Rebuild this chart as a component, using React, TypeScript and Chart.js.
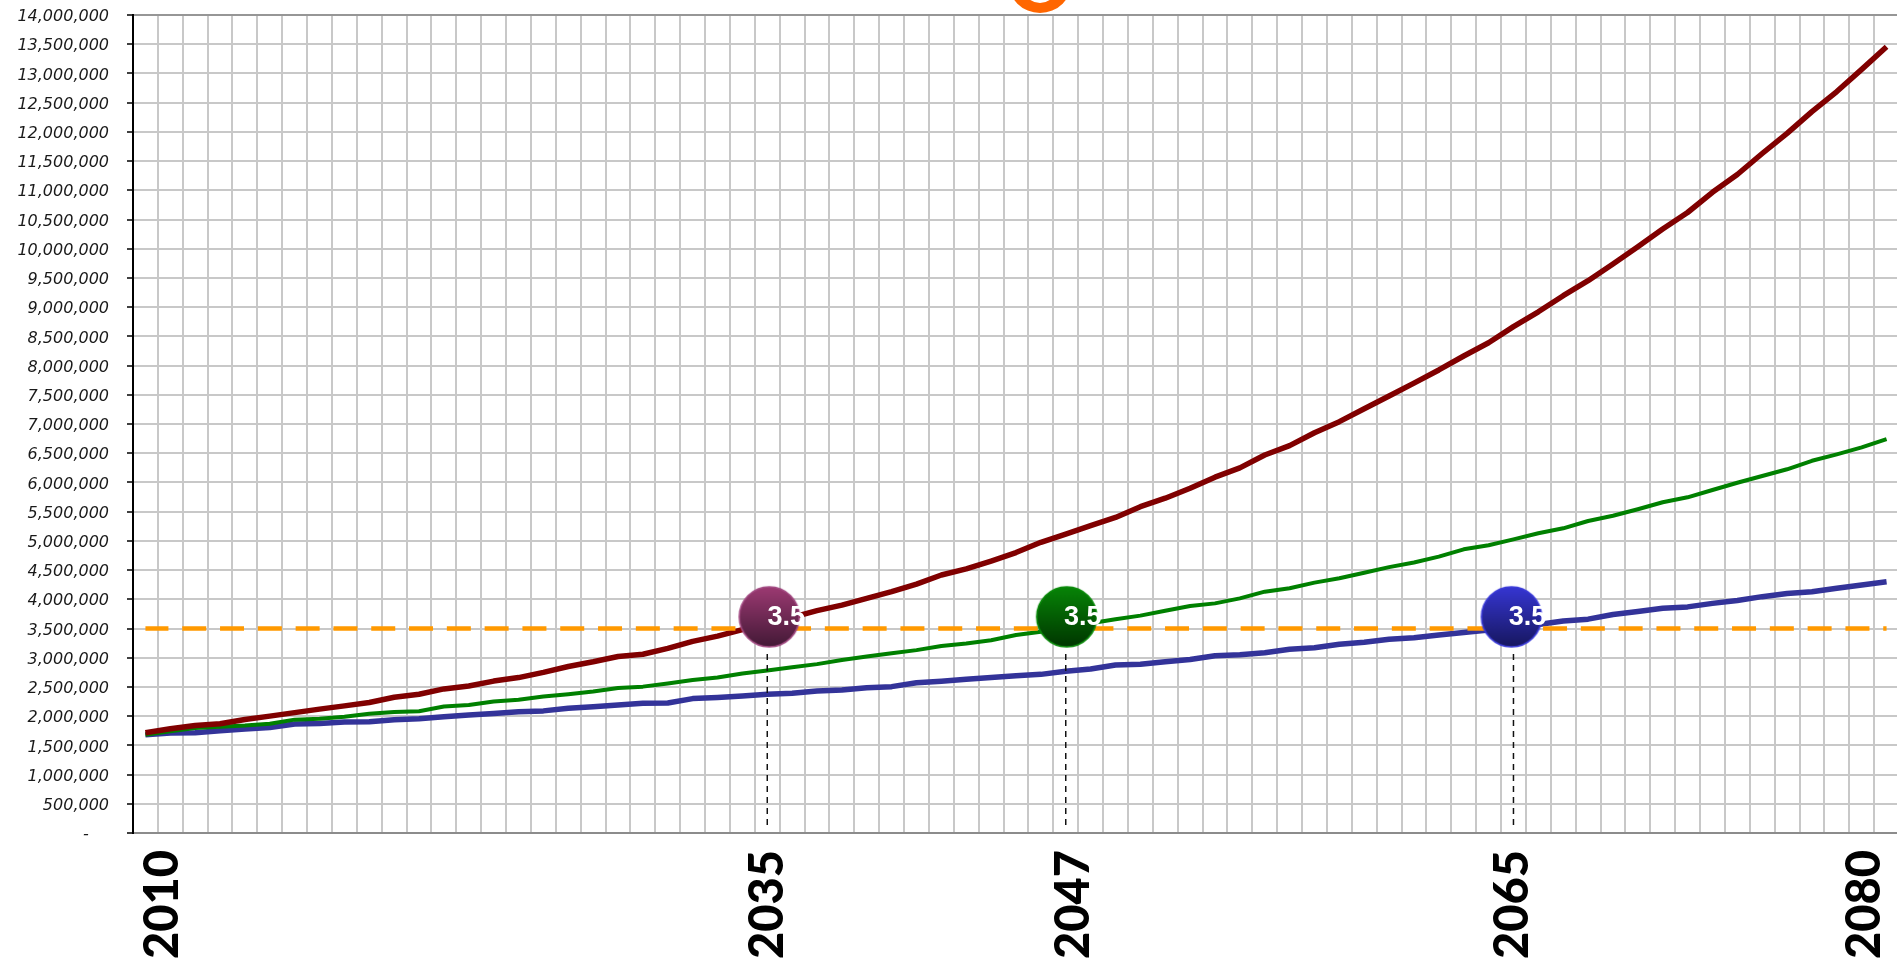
import React, { useEffect, useRef } from "react";
import { Chart, registerables } from "chart.js";

Chart.register(...registerables);

const FIRST_YEAR = 2010;
const years: string[] = Array.from({ length: 71 }, (_, i) => String(FIRST_YEAR + i));
const shownYears = ["2010", "2035", "2047", "2065", "2080"];

const highSeries = [
  1716000, 1784000, 1840000, 1870000, 1943000, 2000000, 2060000, 2120000, 2176000, 2233000,
  2324000, 2375000, 2466000, 2517000, 2600000, 2660000, 2750000, 2850000, 2930000, 3020000,
  3060000, 3160000, 3280000, 3370000, 3480000, 3600000, 3690000, 3805000, 3900000, 4016000,
  4130000, 4260000, 4416000, 4520000, 4655000, 4800000, 4975000, 5117000, 5260000, 5400000,
  5585000, 5730000, 5900000, 6090000, 6250000, 6470000, 6630000, 6850000, 7040000, 7260000,
  7480000, 7700000, 7925000, 8164000, 8390000, 8666000, 8920000, 9196000, 9453000, 9740000,
  10035000, 10337000, 10620000, 10965000, 11270000, 11630000, 11975000, 12345000, 12690000, 13070000,
  13457000,
];
const midSeries = [
  1680000, 1740000, 1795000, 1820000, 1840000, 1870000, 1940000, 1955000, 1990000, 2040000,
  2070000, 2085000, 2165000, 2190000, 2250000, 2280000, 2335000, 2375000, 2420000, 2480000,
  2505000, 2560000, 2620000, 2660000, 2730000, 2780000, 2835000, 2890000, 2960000, 3020000,
  3075000, 3130000, 3200000, 3245000, 3300000, 3390000, 3445000, 3520000, 3590000, 3657000,
  3720000, 3805000, 3885000, 3930000, 4016000, 4130000, 4190000, 4285000, 4360000, 4455000,
  4550000, 4630000, 4730000, 4855000, 4925000, 5025000, 5130000, 5215000, 5340000, 5430000,
  5540000, 5660000, 5745000, 5870000, 5995000, 6110000, 6225000, 6370000, 6480000, 6600000,
  6740000,
];
const lowSeries = [
  1680000, 1710000, 1716000, 1750000, 1780000, 1807000, 1864000, 1875000, 1900000, 1905000,
  1940000, 1955000, 1990000, 2020000, 2045000, 2075000, 2090000, 2135000, 2160000, 2190000,
  2220000, 2225000, 2300000, 2320000, 2345000, 2373000, 2390000, 2430000, 2447000, 2487000,
  2505000, 2570000, 2596000, 2630000, 2660000, 2690000, 2715000, 2770000, 2807000, 2875000,
  2890000, 2930000, 2970000, 3035000, 3050000, 3085000, 3145000, 3170000, 3230000, 3265000,
  3315000, 3340000, 3390000, 3430000, 3475000, 3520000, 3570000, 3630000, 3660000, 3740000,
  3790000, 3845000, 3870000, 3930000, 3980000, 4045000, 4100000, 4130000, 4190000, 4245000,
  4300000,
];
const thresholdValue = 3500000;
const thresholdSeries = years.map(() => thresholdValue);

const crossingYears = ["2035", "2047", "2065"];
const markerValue = 3700000;
const dropLineBottom = 137000;
const dropLineTop = 3080000;
const markerLabel = "3.5";

const labelShift: Record<string, number> = { "2010": 17, "2035": 1, "2047": 8, "2065": -1, "2080": -22 };

function makeMarker(top: string, bottom: string, edge: string, dx: number) {
  const r = 30;
  const half = r + 2 + Math.abs(dx);
  const c = document.createElement("canvas");
  c.width = half * 2;
  c.height = half * 2;
  const g = c.getContext("2d")!;
  const grad = g.createLinearGradient(0, half - r, 0, half + r);
  grad.addColorStop(0, top);
  grad.addColorStop(1, bottom);
  g.beginPath();
  g.arc(half + dx, half, r, 0, Math.PI * 2);
  g.fillStyle = grad;
  g.fill();
  g.lineWidth = 1.6;
  g.strokeStyle = edge;
  g.stroke();
  return c;
}

const labelShiftPlugin = {
  id: "labelShift",
  beforeDraw(chart: any) {
    for (const it of chart.scales.x.getLabelItems()) {
      const text = String(it.label);
      if (labelShift[text] !== undefined && !it.options.__moved) {
        it.options.translation = [it.options.translation[0] + labelShift[text], it.options.translation[1]];
        it.options.__moved = true;
      }
    }
    for (const it of chart.scales.y.getLabelItems()) {
      if (!it.options.__moved) {
        it.options.translation = [it.options.translation[0], it.options.translation[1] + 2];
        it.options.__moved = true;
      }
    }
  },
};

const decorPlugin = {
  id: "decor",
  afterDatasetsDraw(chart: any) {
    const { ctx, chartArea } = chart;
    // cut-off orange badge above the plot
    const cx = chartArea.left + 907;
    ctx.save();
    ctx.fillStyle = "#ff6600";
    ctx.beginPath();
    ctx.ellipse(cx, -19, 32, 32, 0, 0, Math.PI * 2);
    ctx.fill();
    ctx.fillStyle = "#ffffff";
    ctx.beginPath();
    ctx.ellipse(cx, -12, 16, 15, 0, 0, Math.PI * 2);
    ctx.fill();
    ctx.restore();

    // marker captions
    chart.data.datasets.forEach((ds: any, di: number) => {
      if (!ds.markerCaption) return;
      const el = chart.getDatasetMeta(di).data[0];
      ctx.save();
      ctx.font = 'bold 27px "Liberation Sans", Arial, sans-serif';
      ctx.fillStyle = "#ffffff";
      ctx.textAlign = "center";
      ctx.textBaseline = "middle";
      ctx.fillText(ds.markerCaption, el.x + ds.captionDx, el.y + 1);
      ctx.restore();
    });
  },
};

export default function App() {
  const ref = useRef<HTMLCanvasElement>(null);

  useEffect(() => {
    const markers = [
      makeMarker("#9c3a72", "#431936", "#a24a82", 2),
      makeMarker("#078407", "#003600", "#0a8a0a", 1),
      makeMarker("#3636d2", "#17175f", "#3a3ad8", -2),
    ];
    const captionDx = [19, 17, 14];

    const dropSets = crossingYears.map((year) => ({
      label: "drop " + year,
      data: [
        { x: year, y: dropLineBottom },
        { x: year, y: dropLineTop },
      ],
      borderColor: "#111111",
      borderWidth: 1.5,
      borderDash: [6, 5],
      pointRadius: 0,
      order: 2,
    }));
    const markerSets = crossingYears.map((year, i) => ({
      label: "marker " + year,
      data: [{ x: year, y: markerValue }],
      showLine: false,
      pointStyle: markers[i],
      pointRadius: 30,
      pointHoverRadius: 30,
      borderWidth: 0,
      order: 0,
      markerCaption: markerLabel,
      captionDx: captionDx[i],
    }));

    const chart = new Chart(ref.current!, {
      type: "line",
      data: {
        labels: years,
        datasets: [
          ...markerSets,
          ...dropSets,
          {
            label: "Threshold",
            data: thresholdSeries,
            borderColor: "#ff9900",
            borderWidth: 4.5,
            borderDash: [24, 13.8],
            borderDashOffset: 1,
            pointRadius: 0,
            order: 3,
          },
          { label: "High", data: highSeries, borderColor: "#800000", borderWidth: 5.5, pointRadius: 0, order: 4 },
          { label: "Mid", data: midSeries, borderColor: "#008000", borderWidth: 4, pointRadius: 0, order: 5 },
          { label: "Low", data: lowSeries, borderColor: "#333399", borderWidth: 5.5, pointRadius: 0, order: 6 },
        ] as any,
      },
      options: {
        responsive: false,
        animation: false,
        events: [],
        layout: { autoPadding: false, padding: { top: 15, right: 0, bottom: 0, left: 0 } },
        elements: { line: { tension: 0, borderCapStyle: "butt", borderJoinStyle: "round" } },
        plugins: { legend: { display: false }, tooltip: { enabled: false }, title: { display: false } },
        scales: {
          x: {
            type: "category",
            offset: true,
            grid: { color: "#c8c8c8", lineWidth: 2, offset: true, drawTicks: false },
            border: { display: true, color: "#8c8c8c", width: 2 },
            afterFit(scale: any) {
              scale.height = 126;
              scale.paddingLeft = 0;
              scale.paddingRight = 0;
              scale.paddingTop = 0;
              scale.paddingBottom = 0;
            },
            ticks: {
              autoSkip: false,
              minRotation: 90,
              maxRotation: 90,
              padding: 17,
              color: "#000000",
              font: { family: "Lato, sans-serif", weight: "900", size: 47 },
              callback(this: any, value: any) {
                const l = this.getLabelForValue(value);
                return shownYears.includes(l) ? l : "";
              },
            },
          },
          y: {
            min: 0,
            max: 14000000,
            afterFit(scale: any) {
              scale.width = 133;
              scale.paddingLeft = 0;
              scale.paddingRight = 0;
              scale.paddingTop = 0;
              scale.paddingBottom = 0;
            },
            grid: {
              color: (c: any) => (c.tick.value === 14000000 ? "#969696" : c.tick.value === 0 ? "#8c8c8c" : "#c8c8c8"),
              lineWidth: 2,
              tickColor: "#000000",
              tickWidth: 1.5,
              tickLength: 6,
            },
            border: { display: true, color: "#000000", width: 2 },
            ticks: {
              stepSize: 500000,
              autoSkip: false,
              padding: 18,
              color: "#1a1a1a",
              font: { family: '"DejaVu Sans", sans-serif', style: "italic", size: 16 },
              callback(value: any) {
                return value === 0 ? "-    " : Number(value).toLocaleString("en-US");
              },
            },
          },
        },
      } as any,
      plugins: [labelShiftPlugin, decorPlugin],
    });
    return () => chart.destroy();
  }, []);

  return (
    <div style={{ position: "absolute", left: 0, top: 0, width: 1897, height: 959, overflow: "hidden", background: "#ffffff" }}>
      <canvas ref={ref} width={1899} height={959} style={{ display: "block" }} />
    </div>
  );
}
